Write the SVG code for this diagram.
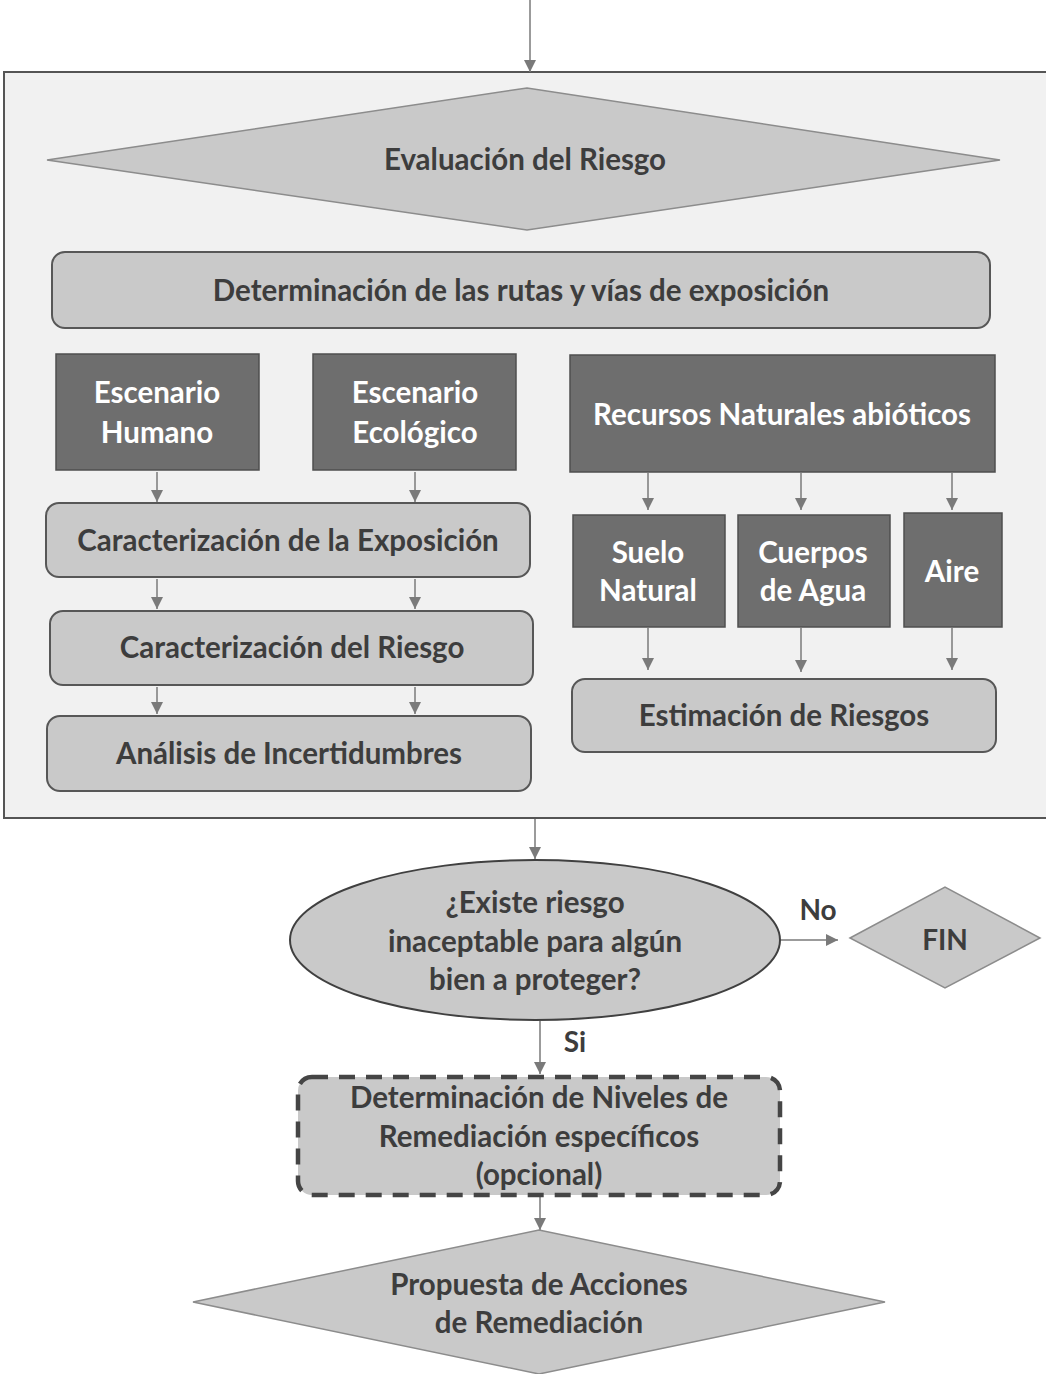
<svg xmlns="http://www.w3.org/2000/svg" width="1046" height="1374" viewBox="0 0 1046 1374">
<defs>
<marker id="ah" viewBox="0 0 10 10" refX="10" refY="5" markerWidth="13" markerHeight="12" markerUnits="userSpaceOnUse" orient="auto">
<path d="M0,0 L10,5 L0,10 z" fill="#7a7a7a"/>
</marker>
<style>
.t{font-family:Lato,"Open Sans","Liberation Sans",sans-serif;font-weight:bold;font-size:29.5px;text-anchor:middle;fill:#3d3d3d}
.w{fill:#ffffff}
.lb{fill:#c9c9c9;stroke:#575757;stroke-width:2}
.db{fill:#6e6e6e;stroke:#4f4f4f;stroke-width:1.5}
.dm{fill:#c9c9c9;stroke:#8c8c8c;stroke-width:1.5}
.c{stroke:#7a7a7a;stroke-width:1.5;fill:none;marker-end:url(#ah)}
</style>
</defs>
<rect width="1046" height="1374" fill="#ffffff"/>
<g id="frame"><rect x="4" y="72" width="1050" height="746" fill="#f1f1f1" stroke="#555555" stroke-width="2"/></g>

<g id="connectors">
<line class="c" x1="530" y1="0" x2="530" y2="72"/>
<line class="c" x1="157" y1="472" x2="157" y2="502"/>
<line class="c" x1="415" y1="472" x2="415" y2="502"/>
<line class="c" x1="157" y1="579" x2="157" y2="609"/>
<line class="c" x1="415" y1="579" x2="415" y2="609"/>
<line class="c" x1="157" y1="687" x2="157" y2="714"/>
<line class="c" x1="415" y1="687" x2="415" y2="714"/>
<line class="c" x1="648" y1="473" x2="648" y2="510"/>
<line class="c" x1="801" y1="473" x2="801" y2="510"/>
<line class="c" x1="952" y1="473" x2="952" y2="510"/>
<line class="c" x1="648" y1="628" x2="648" y2="670"/>
<line class="c" x1="801" y1="628" x2="801" y2="672"/>
<line class="c" x1="952" y1="628" x2="952" y2="670"/>
<line class="c" x1="535" y1="819" x2="535" y2="859"/>
<line class="c" x1="780" y1="940" x2="838" y2="940"/>
<line class="c" x1="540" y1="1021" x2="540" y2="1074"/>
<line class="c" x1="540" y1="1196" x2="540" y2="1230"/>
<text class="t" x="818" y="920" style="font-size:28px">No</text>
<text class="t" x="575" y="1052" style="font-size:28px">Si</text>
</g>

<g id="evaluacion">
<polygon class="dm" points="47,160 527,88 1000,160 527,230"/>
<text class="t" x="525" y="170">Evaluación del Riesgo</text>
</g>
<g id="rutas">
<rect class="lb" x="52" y="252" width="938" height="76" rx="13"/>
<text class="t" x="521" y="301">Determinación de las rutas y vías de exposición</text>
</g>
<g id="humano">
<rect class="db" x="56" y="354" width="203" height="116"/>
<text class="t w" x="157" y="403">Escenario</text>
<text class="t w" x="157" y="443">Humano</text>
</g>
<g id="ecologico">
<rect class="db" x="313" y="354" width="203" height="116"/>
<text class="t w" x="415" y="403">Escenario</text>
<text class="t w" x="415" y="443">Ecológico</text>
</g>
<g id="recursos">
<rect class="db" x="570" y="355" width="425" height="117"/>
<text class="t w" x="782" y="425">Recursos Naturales abióticos</text>
</g>
<g id="exposicion">
<rect class="lb" x="46" y="503" width="484" height="74" rx="13"/>
<text class="t" x="288" y="551">Caracterización de la Exposición</text>
</g>
<g id="riesgo">
<rect class="lb" x="50" y="611" width="483" height="74" rx="13"/>
<text class="t" x="292" y="658">Caracterización del Riesgo</text>
</g>
<g id="incertidumbres">
<rect class="lb" x="47" y="716" width="484" height="75" rx="13"/>
<text class="t" x="289" y="764">Análisis de Incertidumbres</text>
</g>
<g id="suelo">
<rect class="db" x="573" y="515" width="152" height="112"/>
<text class="t w" x="648" y="563">Suelo</text>
<text class="t w" x="648" y="601">Natural</text>
</g>
<g id="agua">
<rect class="db" x="738" y="515" width="152" height="112"/>
<text class="t w" x="813" y="563">Cuerpos</text>
<text class="t w" x="813" y="601">de Agua</text>
</g>
<g id="aire">
<rect class="db" x="904" y="513" width="98" height="114"/>
<text class="t w" x="952" y="582">Aire</text>
</g>
<g id="estimacion">
<rect class="lb" x="572" y="679" width="424" height="73" rx="13"/>
<text class="t" x="784" y="726">Estimación de Riesgos</text>
</g>
<g id="existe">
<ellipse cx="535" cy="940" rx="245" ry="80" fill="#c9c9c9" stroke="#404040" stroke-width="2"/>
<text class="t" x="535" y="913">¿Existe riesgo</text>
<text class="t" x="535" y="952">inaceptable para algún</text>
<text class="t" x="535" y="990">bien a proteger?</text>
</g>
<g id="fin">
<polygon class="dm" points="850,938 945,887 1040,938 945,988"/>
<text class="t" x="945" y="950" style="font-size:28px">FIN</text>
</g>
<g id="niveles">
<rect x="298" y="1077" width="482" height="118" rx="14" fill="#c9c9c9" stroke="#454545" stroke-width="4.5" stroke-dasharray="16,11"/>
<text class="t" x="539" y="1108">Determinación de Niveles de</text>
<text class="t" x="539" y="1147">Remediación específicos</text>
<text class="t" x="539" y="1185">(opcional)</text>
</g>
<g id="propuesta">
<polygon class="dm" points="193,1302 539,1230 885,1302 539,1374"/>
<text class="t" x="539" y="1295">Propuesta de Acciones</text>
<text class="t" x="539" y="1333">de Remediación</text>
</g>
</svg>
